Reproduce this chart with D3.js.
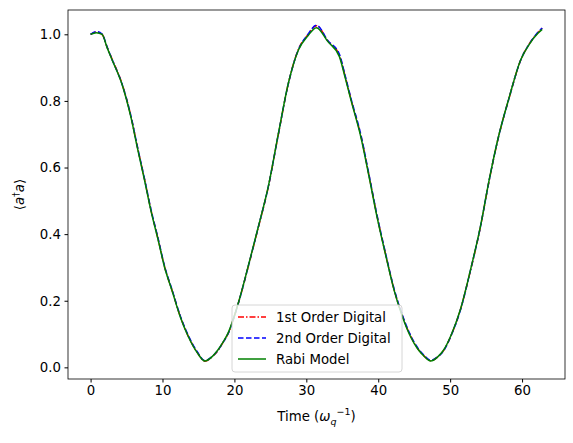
<!DOCTYPE html>
<html><head><meta charset="utf-8">
<script src="https://cdn.jsdelivr.net/npm/d3@7"></script>
<style>body{margin:0;background:#fff}text{font-family:"DejaVu Sans",sans-serif}</style>
</head><body><svg width="573" height="443"></svg>
<script>
const times = [0,0.8,1.6,2.3,3,4.4,5.6,6.5,7.5,8.4,9.4,10.3,11.3,12.5,13.6,14.8,15.9,16.8,17.7,18.4,19.1,20.5,21.9,23.3,24.7,26.1,27.5,28.9,30.2,31.4,33,34.6,35.4,36.2,37.6,38.7,39.8,41,42.2,43.4,44.5,45.5,46.3,47.3,48.2,49.1,50.2,51.4,52.8,54.2,55.4,56.6,58.2,59.8,61,62.2,62.8];
const rabi = [1.0,1.005,1.0,0.96,0.923,0.848,0.752,0.66,0.562,0.47,0.382,0.3,0.232,0.15,0.092,0.045,0.019,0.03,0.052,0.075,0.102,0.19,0.302,0.42,0.542,0.7,0.853,0.953,0.995,1.02,0.978,0.933,0.87,0.803,0.69,0.575,0.455,0.34,0.232,0.15,0.092,0.055,0.035,0.019,0.03,0.052,0.1,0.172,0.29,0.422,0.56,0.682,0.81,0.923,0.97,1.003,1.015];
const offsA = [0,0.002,0,0.001,0.002,0.002,0.003,0.003,0.003,0.002,0.002,0.001,0.001,0.001,0.001,0.001,-0.001,0,-0.002,-0.001,-0.002,-0.001,-0.002,-0.002,-0.002,-0.002,-0.001,0.002,0.003,0.006,0.002,0.004,0.004,0.003,0.004,0.003,0.003,0.002,0.002,0.002,0.002,0.001,0.001,0.001,0,-0.001,-0.001,-0.001,-0.002,-0.002,-0.002,-0.002,-0.001,-0.001,0.001,0.002,0.003];
const offsB = [0,0.003,0.001,0.002,0.001,0.001,0.004,0.004,0.004,0.004,0.004,0.003,0.003,0.003,0.003,0.003,0.001,0.001,-0.001,-0.001,-0.002,-0.001,-0.001,-0.001,-0.001,-0.001,-0.001,0.001,0.004,0.007,0.003,0.007,0.006,0.005,0.007,0.005,0.005,0.004,0.004,0.004,0.004,0.003,0.003,0.002,0.001,-0.002,-0.001,-0.002,-0.001,-0.001,-0.001,-0.001,-0.001,-0.001,0.001,0.003,0.004];
const first = rabi.map((v, i) => v + offsA[i]);
const second = rabi.map((v, i) => v + offsB[i]);
const series = [
  {name: "1st Order Digital", values: first, color: "red", dash: "6,2,1.5,2"},
  {name: "2nd Order Digital", values: second, color: "blue", dash: "5.5,2.5"},
  {name: "Rabi Model", values: rabi, color: "green", dash: null}
];
const xTicks = [0,10,20,30,40,50,60];
const yTicks = [0,0.2,0.4,0.6,0.8,1.0];

const svg = d3.select("svg");
const L = 68, R = 565, T = 10, B = 379;
const x = d3.scaleLinear().domain([-3.14, 65.97]).range([L, R]);
const y = d3.scaleLinear().domain([-0.035, 1.073]).range([B, T]);

svg.append("g").attr("transform", `translate(0,${B})`)
  .call(d3.axisBottom(x).tickValues(xTicks).tickSize(3.5).tickPadding(3.5).tickFormat(d3.format("d")))
  .call(g => g.select(".domain").remove())
  .selectAll("text").attr("font-size", 13.3).attr("fill", "#000").attr("font-family", "DejaVu Sans");
svg.append("g").attr("transform", `translate(${L},0)`)
  .call(d3.axisLeft(y).tickValues(yTicks).tickSize(3.5).tickPadding(3.5).tickFormat(d3.format(".1f")))
  .call(g => g.select(".domain").remove())
  .selectAll("text").attr("font-size", 13.3).attr("fill", "#000").attr("font-family", "DejaVu Sans");

const line = d3.line().x((d, i) => x(times[i])).y(d => y(d)).curve(d3.curveMonotoneX);
series.forEach(s => {
  svg.append("path").attr("d", line(s.values)).attr("fill", "none")
    .attr("stroke", s.color).attr("stroke-width", 1.5)
    .attr("stroke-dasharray", s.dash);
});

svg.append("rect").attr("x", L).attr("y", T).attr("width", R - L).attr("height", B - T)
  .attr("fill", "none").attr("stroke", "#000").attr("stroke-width", 0.8);

// labels
const xl = svg.append("text").attr("x", (L + R) / 2).attr("y", 421).attr("text-anchor", "middle").attr("font-size", 13.3);
xl.append("tspan").text("Time (");
xl.append("tspan").attr("font-style", "italic").text("ω");
xl.append("tspan").attr("font-style", "italic").attr("font-size", 9.5).attr("dy", 4).text("q");
xl.append("tspan").attr("font-size", 9.5).attr("dy", -10).text("−1");
xl.append("tspan").attr("dy", 6).text(")");

const yl = svg.append("text").attr("transform", `translate(24,${(T + B) / 2}) rotate(-90)`)
  .attr("text-anchor", "middle").attr("font-size", 13.3);
yl.append("tspan").text("⟨");
yl.append("tspan").attr("font-style", "italic").text("a");
yl.append("tspan").attr("font-size", 9.5).attr("dy", -5).text("†");
yl.append("tspan").attr("font-style", "italic").attr("dy", 5).text("a");
yl.append("tspan").text("⟩");

// legend
const lg = svg.append("g").attr("transform", "translate(232,305)");
lg.append("rect").attr("width", 170).attr("height", 67).attr("rx", 3)
  .attr("fill", "#fff").attr("fill-opacity", 0.8).attr("stroke", "#ccc").attr("stroke-width", 0.8);
series.forEach((s, i) => {
  const yy = 12 + i * 21;
  lg.append("line").attr("x1", 6).attr("x2", 34).attr("y1", yy).attr("y2", yy)
    .attr("stroke", s.color).attr("stroke-width", 1.5).attr("stroke-dasharray", s.dash);
  lg.append("text").attr("x", 44).attr("y", yy + 4.5).attr("font-size", 13.3).text(s.name);
});
</script></body></html>
